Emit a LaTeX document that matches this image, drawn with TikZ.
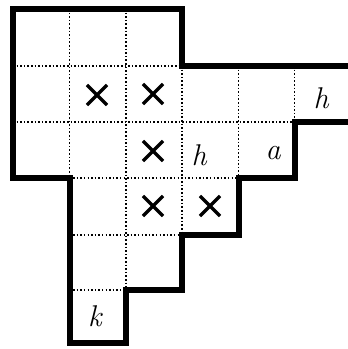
\documentclass[tikz,border=0pt]{standalone}
\usepackage{fontspec}
\usetikzlibrary{shapes.misc}
\begin{document}
\begin{tikzpicture}[x=1pt,y=-1pt,
  outline/.style={line width=6pt, line join=miter},
  gridline/.style={line width=1.5pt, dash pattern=on 1.5pt off 2.1pt},
  xmark/.style={cross out, draw, line width=3.2pt, minimum size=17pt, inner sep=0pt},
  hand/.style={font=\fontsize{30}{32}\selectfont\itshape, inner sep=0pt}]
\useasboundingbox (0,0) rectangle (348,349);
\def\Xa{13}\def\Xb{69.5}\def\Xc{126}\def\Xd{182}\def\Xe{238.5}\def\Xf{294.5}\def\Xg{351}
\def\Ya{9}\def\Yb{66}\def\Yc{122}\def\Yd{178}\def\Ye{235}\def\Yf{290}\def\Yg{343}
% dotted interior grid
\draw[gridline] (\Xb,\Ya) -- (\Xb,\Yd);
\draw[gridline] (\Xc,\Ya) -- (\Xc,\Yf);
\draw[gridline] (\Xd,\Yb) -- (\Xd,\Ye);
\draw[gridline] (\Xe,\Yb) -- (\Xe,\Yd);
\draw[gridline] (\Xf,\Yb) -- (\Xf,\Yc);
\draw[gridline] (\Xa,\Yb) -- (\Xd,\Yb);
\draw[gridline] (\Xa,\Yc) -- (\Xf,\Yc);
\draw[gridline] (\Xb,\Yd) -- (\Xe,\Yd);
\draw[gridline] (\Xb,\Ye) -- (\Xd,\Ye);
\draw[gridline] (\Xb,\Yf) -- (\Xc,\Yf);
% outer boundary
\draw[outline] (\Xa,\Ya) -- (\Xd,\Ya) -- (\Xd,\Yb) -- (\Xg,\Yb) -- (\Xg,\Yc)
  -- (\Xf,\Yc) -- (\Xf,\Yd) -- (\Xe,\Yd) -- (\Xe,\Ye) -- (\Xd,\Ye) -- (\Xd,\Yf)
  -- (\Xc,\Yf) -- (\Xc,\Yg) -- (\Xb,\Yg) -- (\Xb,\Yd) -- (\Xa,\Yd) -- cycle;
% crosses
\node[xmark] (x11) at (97,95) {};
\node[xmark] (x12) at (153,94) {};
\node[xmark] (x22) at (153,151) {};
\node[xmark] (x32) at (153,206) {};
\node[xmark] (x33) at (210,206) {};
% handwritten letters
\node[hand] (h1) at (321,98) {h};
\node[hand] (h2) at (199,155) {h};
\node[hand] (a1) at (273,153) {a};
\node[hand] (k1) at (95,316) {k};
\end{tikzpicture}
\end{document}
